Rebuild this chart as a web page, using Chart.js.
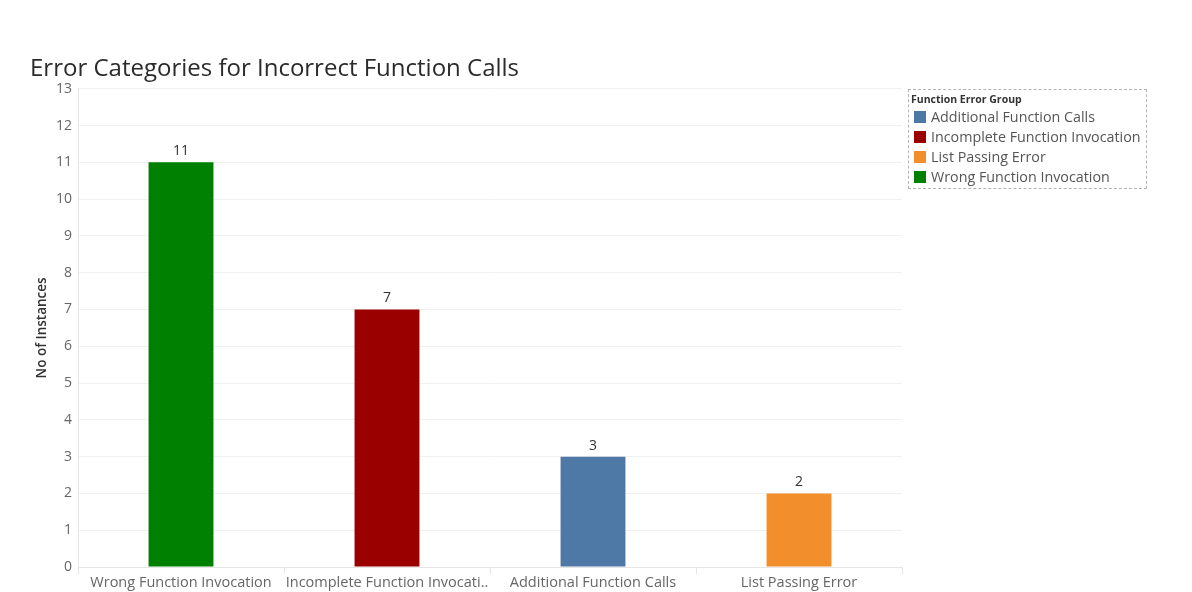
<!DOCTYPE html>
<html>
<head>
<meta charset="utf-8">
<script src="https://cdn.jsdelivr.net/npm/chart.js@4/dist/chart.umd.min.js"></script>
<style>
  body { margin: 0; background: #fff; }
  #wrap { position: relative; width: 1192px; height: 592px; }
  #legend {
    position: absolute; left: 908px; top: 89px; width: 235px;
    border: 1px dashed #b4b4b4; padding: 2px 0 1px 2px;
    font-family: "Open Sans", "Noto Sans", sans-serif; color: #555;
  }
  #legend .ttl { font-size: 10.5px; font-weight: bold; color: #333; margin-bottom: 1px; }
  #legend .item { font-size: 14.3px; height: 20px; line-height: 20px; white-space: nowrap; }
  #legend .sw { display: inline-block; width: 12px; height: 12px; margin: 0 5px 0 3px; vertical-align: -1px; }
</style>
</head>
<body>
<div id="wrap">
  <canvas id="chart" width="1192" height="592"></canvas>
  <div id="legend"><div class="ttl">Function Error Group</div></div>
</div>
<script>
// DATA
var categories = ["Wrong Function Invocation", "Incomplete Function Invocation", "Additional Function Calls", "List Passing Error"];
var tickLabels = ["Wrong Function Invocation", "Incomplete Function Invocati..", "Additional Function Calls", "List Passing Error"];
var instances = [11, 7, 3, 2];
var yTicks = [0, 1, 2, 3, 4, 5, 6, 7, 8, 9, 10, 11, 12, 13];

// colours per error group (legend is sorted alphabetically)
var groupColors = {
  "Additional Function Calls": "#4e79a7",
  "Incomplete Function Invocation": "#9b0000",
  "List Passing Error": "#f28e2b",
  "Wrong Function Invocation": "#008000"
};

var font = '"Open Sans", "Noto Sans", sans-serif';

// LEGEND
var legend = document.getElementById('legend');
Object.keys(groupColors).sort().forEach(function(name){
  var row = document.createElement('div');
  row.className = 'item';
  row.innerHTML = '<span class="sw" style="background:' + groupColors[name] + '"></span>' + name;
  legend.appendChild(row);
});

// value labels on top of bars
var barValues = {
  id: 'barValues',
  afterDatasetsDraw: function(chart) {
    var ctx = chart.ctx;
    var meta = chart.getDatasetMeta(0);
    ctx.save();
    ctx.font = '14px ' + font;
    ctx.fillStyle = '#333';
    ctx.textAlign = 'center';
    ctx.textBaseline = 'bottom';
    meta.data.forEach(function(bar, i){
      ctx.fillText(instances[i], bar.x, bar.y - 4);
    });
    ctx.restore();
  }
};

var chart = new Chart(document.getElementById('chart'), {
  type: 'bar',
  data: {
    labels: tickLabels,
    datasets: [{
      label: 'No of Instances',
      data: instances,
      backgroundColor: categories.map(function(c){ return groupColors[c]; }),
      barPercentage: 0.315,
      categoryPercentage: 1
    }]
  },
  options: {
    responsive: false,
    animation: false,
    layout: { padding: { left: 30, right: 290, top: 0, bottom: 0 } },
    plugins: {
      legend: { display: false },
      tooltip: { enabled: false },
      title: {
        display: true,
        text: 'Error Categories for Incorrect Function Calls',
        align: 'start',
        color: '#2b2b2b',
        font: { family: font, size: 24, weight: 'normal' },
        padding: { top: 55, bottom: 5 }
      }
    },
    scales: {
      x: {
        afterFit: function(scale){ scale.height = 25; },
        grid: { offset: true, drawOnChartArea: false, tickLength: 7, color: '#e6e6e6' },
        border: { color: '#e6e6e6' },
        ticks: { color: '#666', font: { family: font, size: 14.5 }, padding: 0, maxRotation: 0, autoSkip: false }
      },
      y: {
        min: 0,
        max: 13,
        afterFit: function(scale){ scale.width = 48; },
        afterBuildTicks: function(scale){ scale.ticks = yTicks.map(function(v){ return { value: v }; }); },
        grid: { color: '#f0f0f0', drawTicks: false },
        border: { color: '#e6e6e6' },
        ticks: { color: '#666', font: { family: font, size: 14 }, padding: 6 },
        title: {
          display: true,
          text: 'No of Instances',
          color: '#333',
          font: { family: font, size: 13.5, weight: '600' },
          padding: { top: 4, bottom: 0 }
        }
      }
    }
  },
  plugins: [barValues]
});
</script>
</body>
</html>
